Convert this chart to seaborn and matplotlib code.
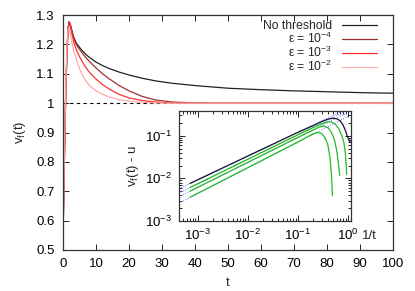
import matplotlib
matplotlib.use("Agg")
import matplotlib.pyplot as plt
import matplotlib.ticker as mticker
import pandas as pd
import seaborn as sns

# main panel: v_f(t)
t = [0, 0.3, 0.6, 0.9, 1.2, 1.5, 1.8, 2.2, 2.7, 3.3, 4, 5, 6, 7, 8, 10, 12, 14,
     17, 20, 24, 28, 33, 40, 50, 60, 70, 80, 90, 100]
v_none = [0.55, 0.75, 0.93, 1.07, 1.18, 1.25, 1.277, 1.268, 1.245, 1.222, 1.205,
          1.19, 1.177, 1.165, 1.156, 1.14, 1.128, 1.118, 1.106, 1.096, 1.085,
          1.076, 1.068, 1.06, 1.051, 1.046, 1.042, 1.039, 1.036, 1.034]
v_eps4 = [0.55, 0.75, 0.93, 1.07, 1.18, 1.25, 1.277, 1.268, 1.244, 1.22, 1.2,
          1.183, 1.168, 1.154, 1.142, 1.12, 1.1, 1.083, 1.06, 1.042, 1.023,
          1.011, 1.004, 1.001, 1.0, 1.0, 1.0, 1.0, 1.0, 1.0]
v_eps3 = [0.55, 0.75, 0.93, 1.07, 1.18, 1.25, 1.275, 1.262, 1.235, 1.205, 1.183,
          1.158, 1.138, 1.12, 1.105, 1.082, 1.063, 1.048, 1.03, 1.018, 1.009,
          1.004, 1.001, 1.0, 1.0, 1.0, 1.0, 1.0, 1.0, 1.0]
v_eps2 = [0.55, 0.77, 0.96, 1.1, 1.2, 1.25, 1.255, 1.235, 1.205, 1.175, 1.15,
          1.117, 1.092, 1.074, 1.06, 1.042, 1.03, 1.021, 1.012, 1.007, 1.003,
          1.001, 1.0, 1.0, 1.0, 1.0, 1.0, 1.0, 1.0, 1.0]
u_level = [1.0, 1.0]
u_t = [0, 100]

labels = ["No threshold", r"ε = 10$^{-4}$", r"ε = 10$^{-3}$", r"ε = 10$^{-2}$"]
colors = ["#222222", "#a03030", "#ff3030", "#ffaaaa"]

# inset: v_f(t) - u against 1/t
inv_black = [7e-4, 0.1, 0.2, 0.3, 0.4, 0.5, 0.6, 0.7, 0.8, 0.9, 1.0, 1.12]
dv_black = [0.0076, 0.12, 0.172, 0.215, 0.245, 0.258, 0.25, 0.225, 0.18, 0.13, 0.09, 0.07]
inv_g1 = [7e-4, 0.1, 0.2, 0.3, 0.4, 0.47, 0.55, 0.65, 0.75, 0.83, 0.89, 0.925, 0.945]
dv_g1 = [0.0061, 0.105, 0.155, 0.19, 0.212, 0.21, 0.19, 0.15, 0.105, 0.07, 0.04, 0.022, 0.0125]
inv_g2 = [7e-4, 0.1, 0.2, 0.27, 0.33, 0.4, 0.47, 0.54, 0.6, 0.64, 0.67, 0.69]
dv_g2 = [0.005, 0.091, 0.135, 0.16, 0.17, 0.155, 0.12, 0.08, 0.045, 0.025, 0.016, 0.0118]
inv_g3 = [7e-4, 0.1, 0.15, 0.2, 0.25, 0.3, 0.35, 0.4, 0.44, 0.47, 0.485, 0.49]
dv_g3 = [0.0036, 0.071, 0.092, 0.11, 0.12, 0.113, 0.09, 0.06, 0.03, 0.012, 0.006, 0.0039]
# power-law fits (dotted), two end points each
inv_fit = [4.2e-4, 1.15]
fit_black = [0.0057, 0.47]
fit_g1 = [0.0045, 0.43]
fit_g2 = [0.0037, 0.38]
fit_g3 = [0.0026, 0.31]

sns.set_theme(style="ticks")
plt.rcParams["font.family"] = ["Liberation Sans", "DejaVu Sans"]
plt.rcParams["mathtext.default"] = "regular"
plt.rcParams["font.size"] = 9.5

fs = 9.5
fig = plt.figure(figsize=(4.15, 2.91), dpi=100)
ax = fig.add_axes([0.152, 0.141, 0.795, 0.807])

sns.lineplot(x=u_t, y=u_level, ax=ax, color="black", lw=0.8, linestyle=(0, (3, 3)))
for vals, lab, col in zip([v_none, v_eps4, v_eps3, v_eps2], labels, colors):
    df = pd.DataFrame({"t": t, "v": vals})
    sns.lineplot(data=df, x="t", y="v", ax=ax, color=col, lw=0.9, label=lab)

ax.set_xlim(0, 100)
ax.set_ylim(0.5, 1.3)
ax.set_xticks(range(0, 101, 10))
ax.set_yticks([0.5, 0.6, 0.7, 0.8, 0.9, 1.0, 1.1, 1.2, 1.3])
ax.yaxis.set_major_formatter(mticker.FuncFormatter(lambda v, p: "%g" % round(v, 2)))
ax.tick_params(direction="in", top=True, right=True, length=4, width=0.6,
               labelsize=fs, pad=6, colors="black")
for s in ax.spines.values():
    s.set_linewidth(0.9)
    s.set_color("#333333")
ax.set_xlabel("t", fontsize=fs, labelpad=5)
ax.set_ylabel("v$_f$(t)", fontsize=fs, labelpad=6)

leg = ax.legend(loc="upper right", bbox_to_anchor=(0.952, 0.978), borderaxespad=0,
                borderpad=0, frameon=False, markerfirst=False, handlelength=2.9,
                handletextpad=0.8, labelspacing=-0.1, fontsize=8.7)

# inset
axi = fig.add_axes([0.431, 0.2405, 0.4145, 0.378])
for xs, ys in zip([inv_fit] * 4, [fit_black, fit_g1, fit_g2, fit_g3]):
    sns.lineplot(x=xs, y=ys, ax=axi, color="#7070ff", lw=0.7, linestyle=(0, (1, 1.5)))
sns.lineplot(x=inv_black, y=dv_black, ax=axi, color="#101030", lw=0.9, sort=False)
for xs, ys in [(inv_g1, dv_g1), (inv_g2, dv_g2), (inv_g3, dv_g3)]:
    sns.lineplot(x=xs, y=ys, ax=axi, color="#22bb22", lw=0.9, sort=False)

axi.set_xscale("log")
axi.set_yscale("log")
axi.set_xlim(4.2e-4, 1.15)
axi.set_ylim(1e-3, 0.38)
axi.set_xticks([1e-3, 1e-2, 1e-1, 1])
axi.set_yticks([1e-3, 1e-2, 1e-1])
axi.xaxis.set_major_formatter(mticker.LogFormatterSciNotation())
axi.yaxis.set_major_formatter(mticker.LogFormatterSciNotation())
axi.tick_params(which="both", direction="in", top=True, right=True, width=0.6,
                labelsize=fs, pad=5, colors="black")
axi.tick_params(which="major", length=4)
axi.tick_params(which="minor", length=2)
for s in axi.spines.values():
    s.set_linewidth(0.9)
    s.set_color("#333333")
axi.set_xlabel("")
axi.set_ylabel("v$_f$(t) - u", fontsize=fs, labelpad=3)
axi.text(1.065, -0.135, "1/t", transform=axi.transAxes, ha="left", va="center", fontsize=fs)

fig.savefig("out.png", dpi=100)
